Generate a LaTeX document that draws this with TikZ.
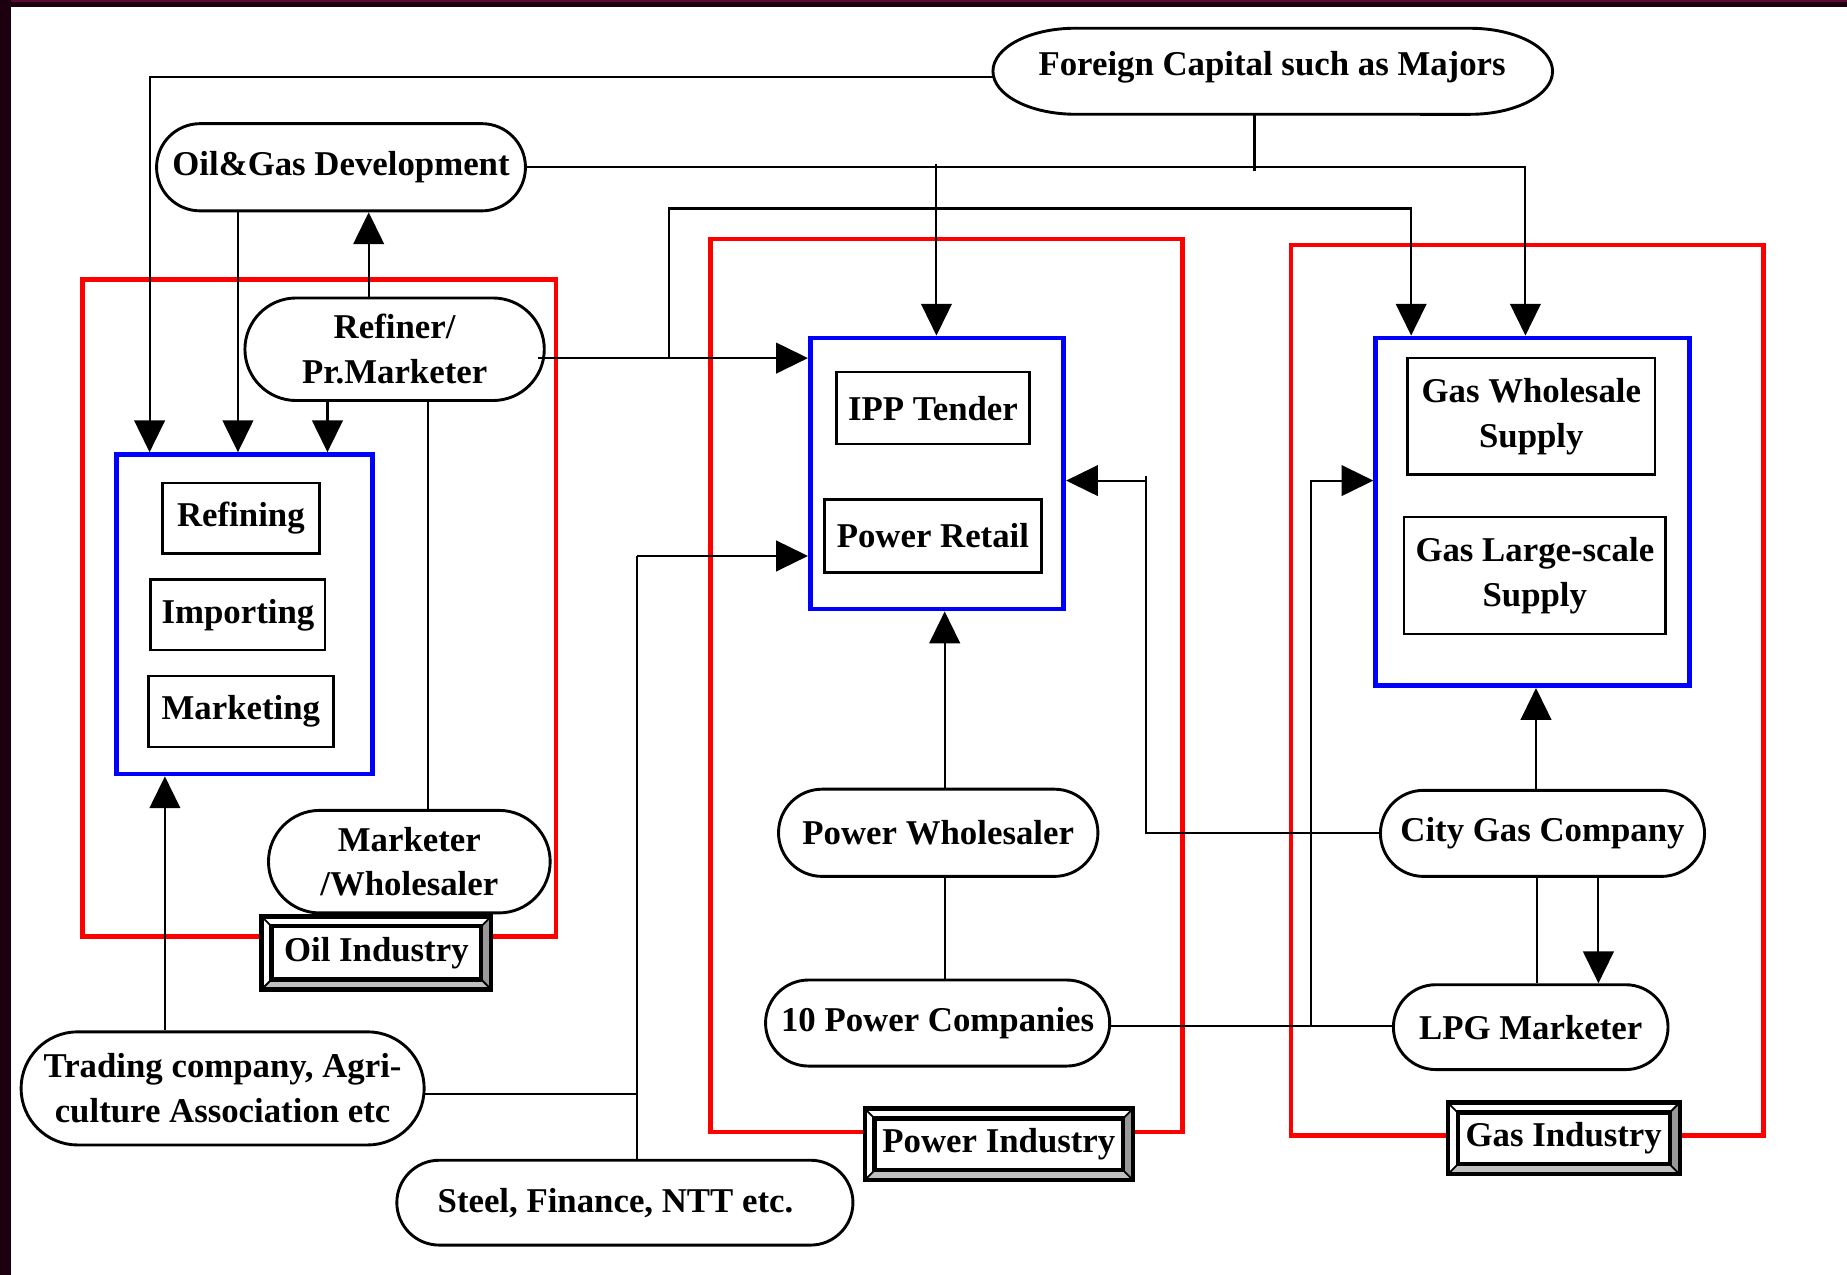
\documentclass[tikz,border=0pt]{standalone}
\usepackage{fontspec}
\setmainfont{Liberation Serif}
\usetikzlibrary{arrows.meta,shapes.misc,calc}
\definecolor{bevdark}{HTML}{999999}
\definecolor{bevlight}{HTML}{C0C0C0}
\definecolor{framecol}{HTML}{1C0010}
\definecolor{maroonc}{HTML}{5E0A34}
\definecolor{rboxc}{HTML}{FF0000}
\definecolor{bboxc}{HTML}{0000FF}
\newcommand\bevelframe[4]{%
  \fill[white] (#1,#2) rectangle (#3,#4);
  \fill[bevdark] (#3,#2) -- (#3,#4) -- ({#3-8.5},{#4-8.5}) -- ({#3-8.5},{#2+8.5}) -- cycle;
  \fill[bevlight] (#1,#4) -- (#3,#4) -- ({#3-8.5},{#4-8.5}) -- ({#1+8.5},{#4-8.5}) -- cycle;
  \draw[line width=0.45pt] (#1,#2) -- ({#1+8.5},{#2+8.5}) (#3,#2) -- ({#3-8.5},{#2+8.5})
     (#1,#4) -- ({#1+8.5},{#4-8.5}) (#3,#4) -- ({#3-8.5},{#4-8.5});
  \draw[line width=1pt] (#1,#2) rectangle (#3,#4);
}
\begin{document}
\begin{tikzpicture}[x={(0.01cm,0)}, y={(0,-0.01cm)},
  every node/.style={font=\fontsize{8.4}{10.8}\selectfont\bfseries, align=center, inner sep=0pt},
  stad/.style={rounded rectangle, draw, line width=0.7pt, fill=white},
  sbox/.style={rectangle, draw, line width=0.6pt, fill=white},
  redbox/.style={draw=rboxc, line width=1.15pt},
  bluebox/.style={rectangle, draw=bboxc, line width=1.15pt},
  conn/.style={line width=0.5pt},
  arr/.style={conn, -{Triangle[length=0.27cm,width=0.26cm]}},
  lbl/.style={rectangle, draw, line width=1pt, fill=white},
]
\useasboundingbox (0,0) rectangle (1568,1082);
\fill[white] (0,0) rectangle (1568,1082);
% screen frame
\fill[framecol] (0,0) rectangle (1568,6);
\fill[maroonc] (0,0) rectangle (1568,1.5);
\fill[framecol] (0,0) rectangle (9,1082);

% industry frames
\draw[redbox] (70,237) rectangle (472,795);
\draw[redbox] (603,203) rectangle (1004,961);
\draw[redbox] (1096,208) rectangle (1497,964);

% blue groups
\node[bluebox, minimum width=2.17cm, minimum height=2.71cm] (oilblue) at (207.5,521.5) {};
\node[bluebox, minimum width=2.15cm, minimum height=2.30cm] (powblue) at (795.5,402) {};
\node[bluebox, minimum width=2.66cm, minimum height=2.95cm] (gasblue) at (1301,434.5) {};

% inner boxes
\node[sbox, minimum width=1.33cm, minimum height=0.60cm] (refining) at (204.5,440) {Refining};
\node[sbox, minimum width=1.48cm, minimum height=0.60cm] (importing) at (202,522) {Importing};
\node[sbox, minimum width=1.57cm, minimum height=0.60cm] (marketing) at (204.5,604) {Marketing};
\node[sbox, minimum width=1.64cm, minimum height=0.61cm] (ipp) at (792,346.5) {IPP Tender};
\node[sbox, minimum width=1.84cm, minimum height=0.62cm] (pr) at (792,455) {Power Retail};
\node[sbox, minimum width=2.10cm, minimum height=0.99cm] (gws) at (1300,353.5) {Gas Wholesale\\Supply};
\node[sbox, minimum width=2.22cm, minimum height=0.99cm] (gls) at (1303,488.5) {Gas Large-scale\\Supply};

% Foreign capital (elliptic ended)
\draw[line width=0.7pt, fill=white] (913,24) -- (1248,24)
   arc[start angle=90, end angle=-90, x radius=0.70cm, y radius=0.365cm] -- (913,97)
   arc[start angle=270, end angle=90, x radius=0.70cm, y radius=0.365cm] -- cycle;
\node (fc) at (1080,57) {Foreign Capital such as Majors};
\coordinate (fcL) at (843.5,65);
\coordinate (fcB) at (1065,97);

% stadium nodes
\node[stad, minimum width=3.13cm, minimum height=0.74cm] (og) at (289.5,142) {Oil\&Gas Development};
\node[stad, minimum width=2.54cm, minimum height=0.87cm] (ref) at (335,296.5) {Refiner/\\Pr.Marketer};
\node[stad, minimum width=2.39cm, minimum height=0.87cm] (mw) at (347.5,731.5) {Marketer\\/Wholesaler};
\node[stad, minimum width=3.42cm, minimum height=0.96cm] (tr) at (189,924) {Trading company, Agri-\\culture Association etc};
\node[stad, minimum width=3.87cm, minimum height=0.72cm] (st) at (530.5,1021) {\hspace*{-0.16cm}Steel, Finance, NTT etc.};
\node[stad, minimum width=2.71cm, minimum height=0.74cm] (pw) at (796.5,707) {Power Wholesaler};
\node[stad, minimum width=2.92cm, minimum height=0.73cm] (tp) at (796,868.5) {10 Power Companies};
\node[stad, minimum width=2.75cm, minimum height=0.73cm] (cg) at (1309.5,707.5) {City Gas Company};
\node[stad, minimum width=2.33cm, minimum height=0.72cm] (lpg) at (1299.5,872) {LPG Marketer};

% named junctions
\coordinate (ippsrc) at (795,139);
\coordinate (refR) at (457,304);
\coordinate (trR) at (360.5,929);

% connectors
\draw[arr] (fcL) -- (127,65) -- (127,0 |- oilblue.north);
\draw[arr] (og.east) -- (1295,142) -- (1295,0 |- gasblue.north);
\draw[conn] (fcB) -- (1065,145);
\draw[arr] (ippsrc) -- (795,0 |- powblue.north);
\draw[arr] (refR) -- (powblue.west |- 0,304);
\draw[arr] (568,304) -- (568,177) -- (1198,177) -- (1198,0 |- gasblue.north);
\draw[arr] (202,0 |- og.south) -- (202,0 |- oilblue.north);
\draw[arr] (313,0 |- ref.north) -- (313,0 |- og.south);
\draw[arr] (278,0 |- ref.south) -- (278,0 |- oilblue.north);
\draw[conn] (363,0 |- ref.south) -- (363,0 |- mw.north);
\draw[arr] (140,0 |- tr.north) -- (140,0 |- oilblue.south);
\draw[conn] (trR) -- (541,929);
\draw[conn] (541,472) -- (541,0 |- st.north);
\draw[arr] (541,472) -- (powblue.west |- 0,472);
\draw[arr] (802,0 |- pw.north) -- (802,0 |- powblue.south);
\draw[conn] (802,0 |- pw.south) -- (802,0 |- tp.north);
\draw[conn] (tp.east |- 0,871) -- (lpg.west |- 0,871);
\draw[arr] (1113,871) -- (1113,408) -- (gasblue.west |- 0,408);
\draw[arr] (cg.west) -- (973,707.5) -- (973,408) -- (powblue.east |- 0,408);
\draw[conn] (973,404) -- (973,408);
\draw[arr] (1304,0 |- cg.north) -- (1304,0 |- gasblue.south);
\draw[conn] (1305,0 |- cg.south) -- (1305,0 |- lpg.north);
\draw[arr] (1357,0 |- cg.south) -- (1357,0 |- lpg.north);

% industry labels
\bevelframe{222}{778}{417}{840}
\node[lbl, minimum width=1.78cm, minimum height=0.45cm] (oilind) at (319.5,809) {Oil Industry};
\bevelframe{734}{941}{962}{1002}
\node[lbl, minimum width=2.11cm, minimum height=0.44cm] (powind) at (848,971.5) {Power Industry};
\bevelframe{1229}{936}{1426}{997}
\node[lbl, minimum width=1.80cm, minimum height=0.44cm] (gasind) at (1327.5,966.5) {Gas Industry};
\end{tikzpicture}
\end{document}
